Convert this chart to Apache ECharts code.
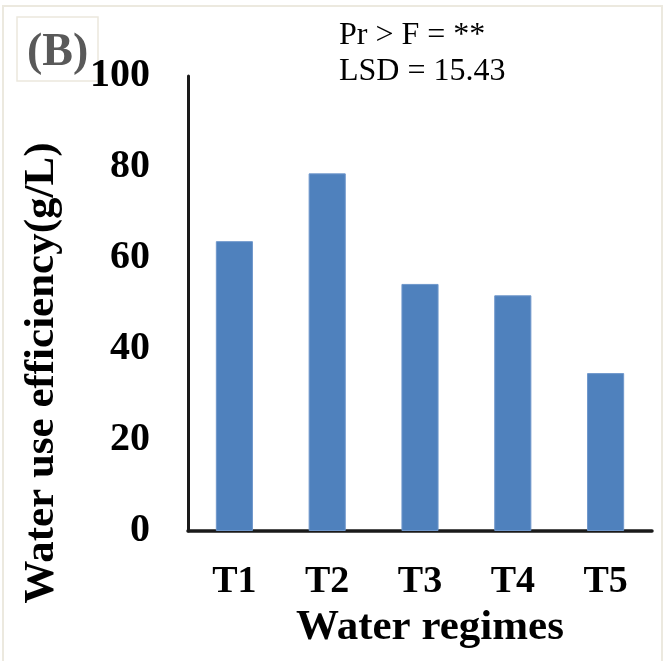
<!DOCTYPE html>
<html>
<head>
<meta charset="utf-8">
<script src="https://cdn.jsdelivr.net/npm/echarts@6/dist/echarts.min.js"></script>
<style>
  html, body { margin: 0; padding: 0; background: #ffffff; }
  #chart { width: 667px; height: 661px; }
</style>
</head>
<body>
<div id="chart"></div>
<script>
// Water use efficiency under five water regimes
const regimes = ['T1', 'T2', 'T3', 'T4', 'T5'];
const efficiency = [63.7, 78.6, 54.3, 51.8, 34.7];
const yTicks = [0, 20, 40, 60, 80, 100];
const panelLabel = '(B)';
const statsLines = ['Pr > F = **', 'LSD = 15.43'];

const serif = '"Liberation Serif", "Times New Roman", Times, serif';

const chart = echarts.init(document.getElementById('chart'), null, { renderer: 'canvas' });

chart.setOption({
  backgroundColor: '#ffffff',
  animation: false,
  grid: { left: 188, right: 15, top: 76, bottom: 130 },
  xAxis: {
    type: 'category',
    data: regimes,
    axisLine: { lineStyle: { color: '#1a1a1a', width: 3.5 } },
    axisTick: { show: false },
    axisLabel: {
      margin: 32,
      fontFamily: serif, fontWeight: 'bold', fontSize: 38, color: '#000'
    },
    name: 'Water regimes',
    nameLocation: 'middle',
    nameGap: 65,
    nameTextStyle: {
      fontFamily: serif, fontWeight: 'bold', fontSize: 43, color: '#000',
      padding: [0, 0, 0, 20]
    }
  },
  yAxis: {
    type: 'value',
    min: yTicks[0],
    max: yTicks[yTicks.length - 1],
    interval: yTicks[1] - yTicks[0],
    axisLine: { show: true, lineStyle: { color: '#1a1a1a', width: 3 } },
    axisTick: { show: false },
    splitLine: { show: false },
    axisLabel: {
      margin: 38,
      fontFamily: serif, fontWeight: 'bold', fontSize: 40, color: '#000'
    }
  },
  series: [{
    type: 'bar',
    data: efficiency,
    barWidth: '40%',
    itemStyle: { color: '#4f81bd', borderColor: '#6f97cb', borderWidth: 1 }
  }],
  graphic: [
    // outer frame
    {
      type: 'rect', silent: true,
      shape: { x: 3, y: 6, width: 659, height: 662 },
      style: { fill: 'none', stroke: '#ece9df', lineWidth: 2 }
    },
    // panel label box
    {
      type: 'rect', silent: true,
      shape: { x: 17, y: 17, width: 81, height: 64 },
      style: { fill: 'none', stroke: '#ebe8dd', lineWidth: 1.5 }
    },
    {
      type: 'text', silent: true, x: 27, y: 53,
      style: {
        text: panelLabel, fontFamily: serif, fontWeight: 'bold', fontSize: 46,
        fill: '#595959', align: 'left', verticalAlign: 'middle'
      }
    },
    // significance annotation
    {
      type: 'text', silent: true, x: 339, y: 36,
      style: {
        text: statsLines[0], fontFamily: serif, fontSize: 32,
        fill: '#000', align: 'left', verticalAlign: 'middle'
      }
    },
    {
      type: 'text', silent: true, x: 339, y: 72,
      style: {
        text: statsLines[1], fontFamily: serif, fontSize: 32,
        fill: '#000', align: 'left', verticalAlign: 'middle'
      }
    },
    // y-axis title
    {
      type: 'text', silent: true, x: 42, y: 373, rotation: Math.PI / 2,
      style: {
        text: 'Water use efficiency(g/L)', fontFamily: serif, fontWeight: 'bold',
        fontSize: 43, fill: '#000', align: 'center', verticalAlign: 'middle'
      }
    }
  ]
});
</script>
</body>
</html>
